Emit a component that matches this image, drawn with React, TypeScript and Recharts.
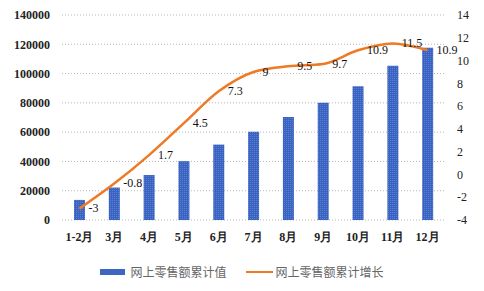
import {
  ComposedChart, Bar, Line, XAxis, YAxis, CartesianGrid, Legend, LabelList,
} from 'recharts';

// 月份（累计）
const months = ['1-2月', '3月', '4月', '5月', '6月', '7月', '8月', '9月', '10月', '11月', '12月'];
// 网上零售额累计值（亿元）
const cumulativeValue = [13712, 22169, 30698, 40176, 51501, 60218, 70326, 80065, 91275, 105374, 117601];
// 网上零售额累计增长（%）
const cumulativeGrowth = [-3, -0.8, 1.7, 4.5, 7.3, 9, 9.5, 9.7, 10.9, 11.5, 10.9];

const leftTicks = [0, 20000, 40000, 60000, 80000, 100000, 120000, 140000];
const rightTicks = [-4, -2, 0, 2, 4, 6, 8, 10, 12, 14];

const BAR_NAME = '网上零售额累计值';
const LINE_NAME = '网上零售额累计增长';

const data = months.map((m, i) => ({
  month: m,
  value: cumulativeValue[i],
  growth: cumulativeGrowth[i],
}));

const tickFont = 'Liberation Serif, Times New Roman, serif';
const tickStyle = { fontSize: 12, fontWeight: 700, fill: '#222', fontFamily: tickFont };

// 折线数据标签，放在点的右侧
function GrowthLabel(props: any) {
  const { x, y, value } = props;
  return (
    <text
      x={Number(x) + 9}
      y={Number(y) + 1}
      dominantBaseline="middle"
      textAnchor="start"
      fontSize={12}
      fontFamily={tickFont}
      fill="#111"
    >
      {value}
    </text>
  );
}

function CustomLegend() {
  return (
    <div
      style={{
        height: 41,
        display: 'flex',
        justifyContent: 'center',
        alignItems: 'center',
        paddingTop: 2,
        boxSizing: 'border-box',
        fontFamily: '"Noto Sans CJK SC", sans-serif',
        fontSize: 12,
        color: '#666',
      }}
    >
      <span style={{ display: 'flex', alignItems: 'center', marginRight: 19 }}>
        <span style={{ width: 25, height: 6, background: '#3d66c2', marginRight: 5 }} />
        {BAR_NAME}
      </span>
      <span style={{ display: 'flex', alignItems: 'center' }}>
        <span style={{ width: 27, height: 2, background: '#ee7a26', marginRight: 3 }} />
        {LINE_NAME}
      </span>
    </div>
  );
}

export default function App() {
  return (
    <div style={{ position: 'absolute', left: 0, top: 0, width: 484, height: 291, background: '#fff' }}>
      <ComposedChart
        width={484}
        height={291}
        data={data}
        margin={{ top: 15, right: 0, bottom: 0, left: 0 }}
        style={{ fontFamily: tickFont }}
      >
        <defs>
          {/* 柱子的点状纹理 */}
          <pattern id="barDots" width="2" height="2" patternUnits="userSpaceOnUse">
            <rect width="2" height="2" fill="#3a62c0" />
            <rect width="1" height="1" fill="#5a80d4" />
          </pattern>
        </defs>
        <CartesianGrid
          yAxisId="left"
          vertical={false}
          stroke="#b8b8b8"
          strokeDasharray="1 2"
        />
        <XAxis
          dataKey="month"
          axisLine={false}
          tickLine={false}
          tickSize={0}
          tickMargin={12}
          height={30}
          interval={0}
          tick={tickStyle}
        />
        <YAxis
          yAxisId="left"
          domain={[0, 140000]}
          ticks={leftTicks}
          axisLine={false}
          tickLine={false}
          tickSize={0}
          tickMargin={12}
          width={62}
          tick={tickStyle}
        />
        <YAxis
          yAxisId="right"
          orientation="right"
          domain={[-4, 14]}
          ticks={rightTicks}
          axisLine={false}
          tickLine={false}
          tickSize={0}
          tickMargin={12}
          width={39}
          tick={{ ...tickStyle, fontWeight: 400 }}
        />
        <Legend verticalAlign="bottom" content={<CustomLegend />} />
        <Bar
          yAxisId="left"
          dataKey="value"
          name={BAR_NAME}
          fill="url(#barDots)"
          barSize={11}
          isAnimationActive={false}
        />
        <Line
          yAxisId="right"
          type="monotone"
          dataKey="growth"
          name={LINE_NAME}
          stroke="#ee7a26"
          strokeWidth={2.5}
          dot={false}
          isAnimationActive={false}
        >
          <LabelList dataKey="growth" content={<GrowthLabel />} />
        </Line>
      </ComposedChart>
    </div>
  );
}
